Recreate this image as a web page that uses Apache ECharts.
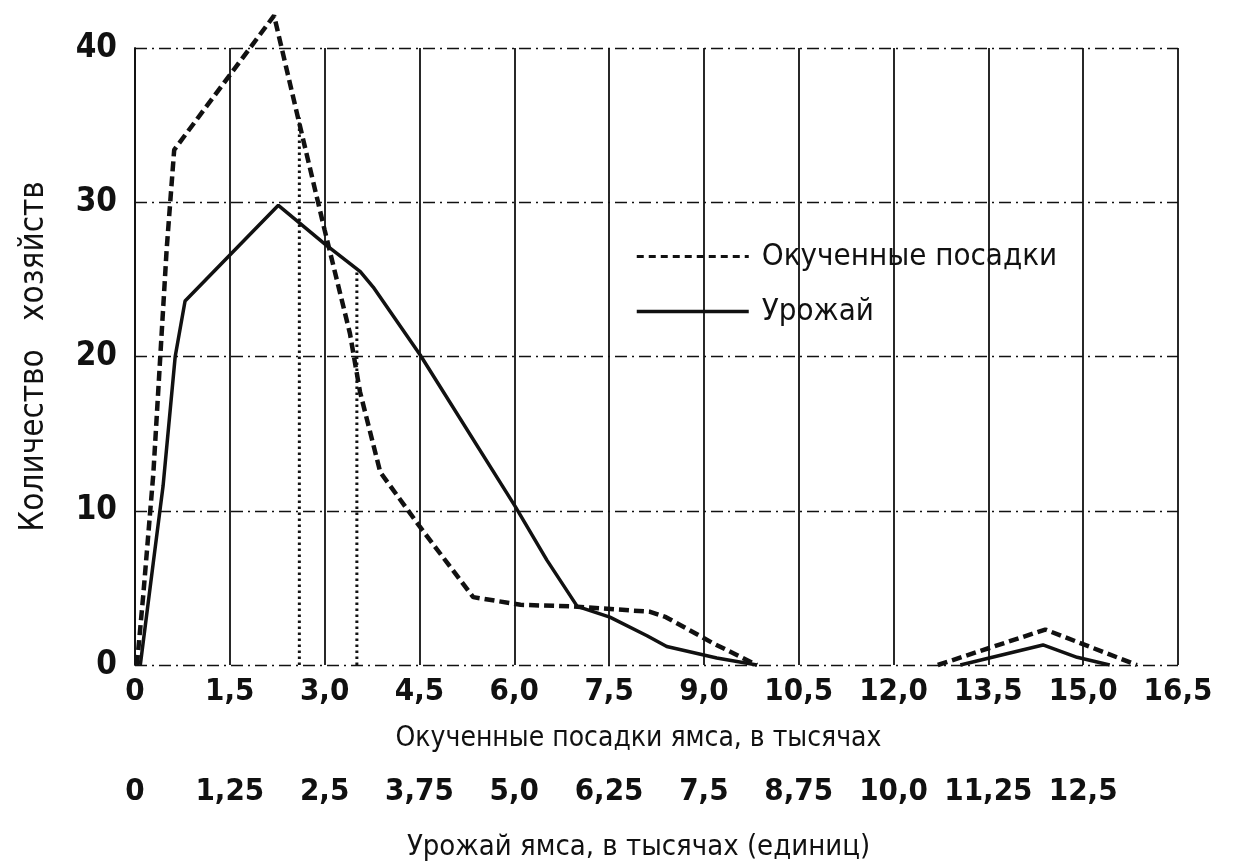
<!DOCTYPE html>
<html>
<head>
<meta charset="utf-8">
<script src="https://cdn.jsdelivr.net/npm/echarts@6/dist/echarts.min.js"></script>
<style>
html,body{margin:0;padding:0;background:#fff;}
#chart{width:1233px;height:868px;}
</style>
</head>
<body>
<div id="chart"></div>
<script>
// ---- data ----
// Hilled yam plantings, thousands (lower x scale 0..16,5) -> number of households
const hilledX = [0.03, 0.13, 0.29, 0.40, 0.50, 0.62, 2.20, 2.56, 3.00, 3.40, 3.56, 3.88, 4.50, 5.35, 6.10, 6.93, 8.15, 8.40, 9.15, 9.84, null, 12.70, 14.40, 15.85];
const hilledY = [0,    4.5,  12.4, 20.0, 26.9, 33.4, 42.1, 35.8, 28.2, 21.5, 17.7, 12.5, 9.0,  4.4,  3.9,  3.8,  3.45, 3.1,  1.4,  0,    null, 0,     2.3,   0];
// Yam harvest, thousands of units (second x scale 0..12,5) -> number of households
const harvestX = [0.07, 0.24, 0.37, 0.53, 0.66, 1.89, 2.50, 2.97, 3.14, 3.76, 5.01, 5.43, 5.83, 6.26, 6.75, 7.01, 7.67, 8.20, null, 10.88, 11.97, 12.42, 12.85];
const harvestY = [0,    6.6,  11.6, 20.0, 23.6, 29.8, 27.3, 25.5, 24.5, 20.1, 10.3, 6.8,  3.8,  3.1,  1.9,  1.2,  0.45, 0,    null, 0,     1.3,   0.5,   0];
// dotted vertical markers (lower x scale): position and height
const markerX = [2.60, 3.51];
const markerTop = [35.5, 25.6];

const plantTicks = ['0','1,5','3,0','4,5','6,0','7,5','9,0','10,5','12,0','13,5','15,0','16,5'];
const harvestTicks = ['0','1,25','2,5','3,75','5,0','6,25','7,5','8,75','10,0','11,25','12,5',''];
const yTicks = ['0','10','20','30','40'];

const seriesNames = ['Окученные посадки', 'Урожай'];
const yName = 'Количество   хозяйств';
const xName1 = 'Окученные посадки ямса, в тысячах';
const xName2 = 'Урожай ямса, в тысячах (единиц)';

// ---- build ----
function pairs(xs, ys){ return xs.map((x,i)=> (x===null ? ['-','-'] : [x, ys[i]])); }
const markerData = [];
markerX.forEach((x,i)=>{ if(i>0) markerData.push(['-','-']); markerData.push([x,0]); markerData.push([x, markerTop[i]]); });

const FONT = "'DejaVu Sans Condensed','DejaVu Sans',sans-serif";
const ink = '#111';
const noSym = {color:'rgba(0,0,0,0)', borderColor:'rgba(0,0,0,0)', borderWidth:0, opacity:0};

const chart = echarts.init(document.getElementById('chart'), null, {renderer:'canvas'});
chart.setOption({
  animation:false,
  backgroundColor:'#fff',
  grid:{left:135, right:55, top:48, bottom:203},
  legend:{
    data:[
      {name:seriesNames[0], itemStyle:noSym, lineStyle:{color:ink, width:3, type:[7,5]}},
      {name:seriesNames[1], itemStyle:noSym, lineStyle:{color:ink, width:3.5, type:'solid'}}
    ],
    orient:'vertical',
    left:630, top:236,
    itemWidth:112, itemHeight:14, itemGap:24,
    textStyle:{fontFamily:FONT, fontSize:31, color:ink, padding:[0,0,0,8]}
  },
  xAxis:[
    {
      type:'value', min:0, max:16.5, interval:1.5, position:'bottom',
      axisLine:{show:false}, axisTick:{show:false},
      splitLine:{show:true, lineStyle:{color:ink, width:1.8, type:'solid'}},
      axisLabel:{margin:11, fontFamily:FONT, fontWeight:'bold', fontSize:31, color:ink,
        formatter:(v)=> plantTicks[Math.round(v/1.5)] },
      name:xName1, nameLocation:'middle', nameGap:60,
      nameTextStyle:{fontFamily:FONT, fontSize:28, color:ink, padding:[0,36,0,0]}
    },
    {
      type:'value', min:0, max:13.75, interval:1.25, position:'bottom', offset:100,
      axisLine:{show:false}, axisTick:{show:false}, splitLine:{show:false},
      axisLabel:{margin:11, fontFamily:FONT, fontWeight:'bold', fontSize:31, color:ink,
        formatter:(v)=> harvestTicks[Math.round(v/1.25)] },
      name:xName2, nameLocation:'middle', nameGap:68,
      nameTextStyle:{fontFamily:FONT, fontSize:29, color:ink, padding:[0,36,0,0]}
    }
  ],
  yAxis:{
    type:'value', min:0, max:40, interval:10,
    axisLine:{show:true, lineStyle:{color:ink, width:1.8}},
    axisTick:{show:false},
    splitLine:{show:true, lineStyle:{color:ink, width:1.4, type:[12,5,2,5]}},
    axisLabel:{margin:18, fontFamily:FONT, fontWeight:'bold', fontSize:33, color:ink,
      formatter:(v)=> yTicks[Math.round(v/10)] },
    name:yName, nameLocation:'middle', nameRotate:90, nameGap:84,
    nameTextStyle:{fontFamily:FONT, fontSize:33, color:ink}
  },
  series:[
    {
      name:seriesNames[0], type:'line', xAxisIndex:0, data:pairs(hilledX, hilledY),
      symbol:'none', clip:false, connectNulls:false,
      lineStyle:{color:ink, width:4.5, type:[10,5]}, itemStyle:{color:ink}
    },
    {
      name:seriesNames[1], type:'line', xAxisIndex:1, data:pairs(harvestX, harvestY),
      symbol:'none', clip:false, connectNulls:false,
      lineStyle:{color:ink, width:3.5, type:'solid'}, itemStyle:{color:ink}
    },
    {
      name:'markers', type:'line', xAxisIndex:0, data:markerData,
      symbol:'none', clip:false, connectNulls:false, silent:true,
      lineStyle:{color:ink, width:3, type:[2.5,3.5]}
    }
  ]
});
</script>
</body>
</html>
